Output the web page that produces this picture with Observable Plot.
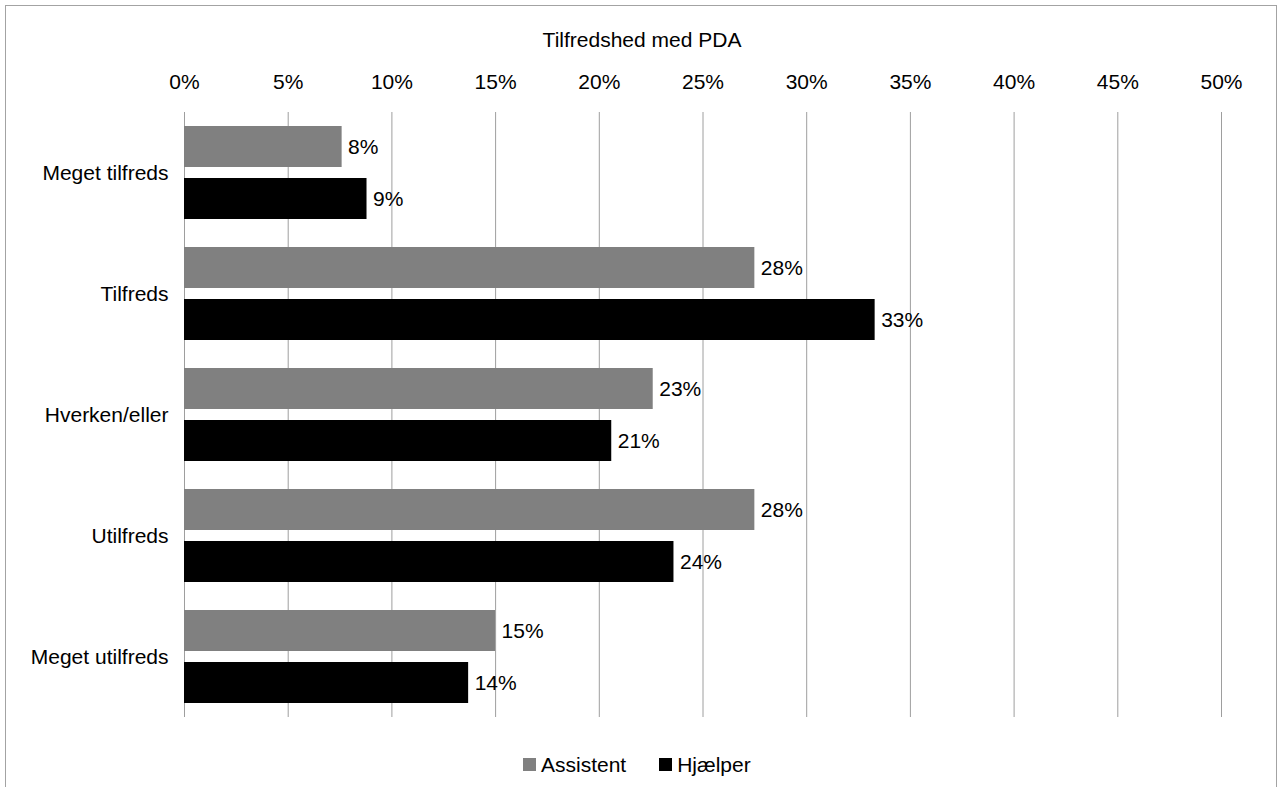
<!DOCTYPE html>
<html>
<head>
<meta charset="utf-8">
<script src="https://cdn.jsdelivr.net/npm/d3@7"></script>
<script src="https://cdn.jsdelivr.net/npm/@observablehq/plot@0.6"></script>
<style>
  body { margin: 0; background: #fff; font-family: "Liberation Sans", Arial, sans-serif; color: #000; }
  #wrap { position: relative; width: 1284px; height: 787px; overflow: hidden; }
  #frame { position: absolute; left: 5px; top: 5px; width: 1270px; height: 820px;
           border: 1.5px solid #a3a3a3; border-bottom: none; pointer-events: none; }
  #title { position: absolute; left: 0; top: 29px; width: 1284px; text-align: center;
           font-size: 21px; line-height: 21px; }
  #chart { position: absolute; left: 0; top: 0; }
  #legend { position: absolute; left: 523px; top: 754px; display: flex; align-items: center;
            font-size: 21px; line-height: 21px; }
  .sw { width: 13px; height: 13px; display: inline-block; margin-right: 5px; }
  .item { display: flex; align-items: center; margin-right: 33px; }
</style>
</head>
<body>
<div id="wrap">
  <div id="chart"></div>
  <div id="title">Tilfredshed med PDA</div>
  <div id="legend"></div>
  <div id="frame"></div>
</div>
<script>
// Answer categories, top to bottom
const categories = ["Meget tilfreds", "Tilfreds", "Hverken/eller", "Utilfreds", "Meget utilfreds"];
// Respondent groups
const groups = ["Assistent", "Hjælper"];
const groupColors = ["#808080", "#000000"];
// Share of each group (percent)
const assistent = [7.6, 27.5, 22.6, 27.5, 15.0];
const hjaelper = [8.8, 33.3, 20.6, 23.6, 13.7];
// Percent ticks on the top axis
const xTicks = [0, 5, 10, 15, 20, 25, 30, 35, 40, 45, 50];

const rows = categories.flatMap((c, i) => [
  { kategori: c, gruppe: groups[0], andel: assistent[i] },
  { kategori: c, gruppe: groups[1], andel: hjaelper[i] }
]);

const chart = Plot.plot({
  width: 1284,
  height: 787,
  marginLeft: 184,
  marginRight: 63,
  marginTop: 111,
  marginBottom: 70,
  style: {
    fontFamily: "'Liberation Sans', Arial, sans-serif",
    fontSize: "21px",
    color: "#000",
    background: "transparent",
    overflow: "visible"
  },
  x: { domain: [0, 50], axis: "top", ticks: xTicks, tickFormat: d => d + "%", tickSize: 0, tickPadding: 24, label: null },
  fy: { domain: categories, padding: 0, axis: "left", tickSize: 0, tickPadding: 16, label: null },
  y: { domain: groups, axis: null, paddingInner: 0.2157, paddingOuter: 0.27 },
  color: { domain: groups, range: groupColors },
  marks: [
    Plot.ruleX(xTicks, { stroke: "#9e9e9e", strokeWidth: 1 }),
    Plot.barX(rows, { fy: "kategori", y: "gruppe", x: "andel", fill: "gruppe" }),
    Plot.text(rows, {
      fy: "kategori", y: "gruppe", x: "andel",
      text: d => Math.round(d.andel) + "%",
      textAnchor: "start", dx: 6, fill: "#000"
    })
  ]
});
document.getElementById("chart").appendChild(chart);

// Legend below the chart
const legend = document.getElementById("legend");
groups.forEach((g, i) => {
  const item = document.createElement("div");
  item.className = "item";
  const sw = document.createElement("span");
  sw.className = "sw";
  sw.style.background = groupColors[i];
  const label = document.createElement("span");
  label.textContent = g;
  item.appendChild(sw);
  item.appendChild(label);
  legend.appendChild(item);
});
</script>
</body>
</html>
